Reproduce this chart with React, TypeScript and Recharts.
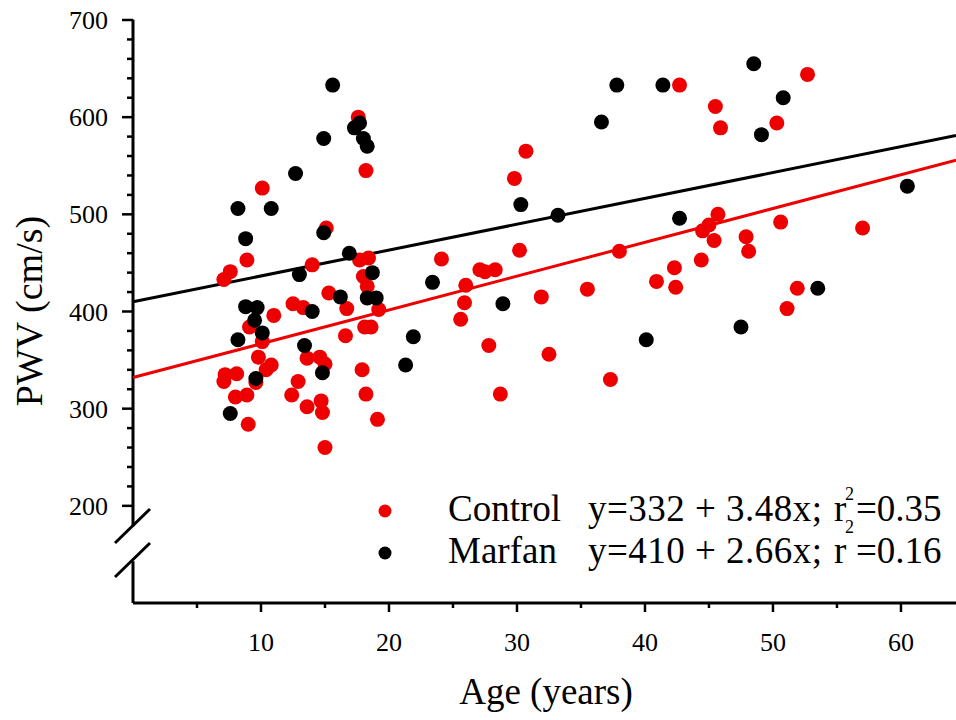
import React from 'react';
import { ScatterChart, Scatter, XAxis, YAxis, ReferenceLine } from 'recharts';

// Control group (red): age in years, PWV in cm/s
const controlAge = [
  10.1, 8.9, 7.6, 7.1, 15.1, 17.7, 18.4, 14.0, 18.0, 18.3, 15.3, 16.7, 19.2, 18.1, 18.6, 16.6,
  17.9, 18.2, 19.1, 15.0, 14.7, 14.8, 13.6, 12.4, 12.9, 13.6, 14.6, 15.0, 13.3, 12.5, 11.0, 9.1,
  10.1, 9.8, 10.8, 10.4, 7.2, 8.1, 7.1, 9.6, 8.9, 8.0, 9.0, 17.6, 18.2, 42.7, 45.5, 45.9,
  50.3, 52.7, 30.7, 29.8, 30.2, 24.1, 27.1, 27.5, 28.3, 26.0, 38.0, 45.7, 45.0, 44.5, 45.4, 47.9,
  48.1, 50.6, 57.0, 44.4, 42.3, 42.4, 40.9, 35.5, 31.9, 51.9, 25.9, 25.6, 51.1, 32.5, 27.8, 28.7,
  37.3,
];
const controlPwv = [
  527, 453, 441, 433, 486, 453, 455, 448, 436, 426, 419, 403, 402, 384, 384, 375,
  340, 315, 289, 260, 308, 296, 302, 314, 328, 352, 353, 346, 404, 408, 396, 384,
  369, 353, 345, 340, 335, 336, 328, 327, 314, 312, 284, 600, 545, 633, 611, 589,
  594, 644, 565, 537, 463, 454, 443, 441, 443, 427, 462, 500, 489, 483, 473, 477,
  462, 492, 486, 453, 445, 425, 431, 423, 415, 424, 409, 392, 403, 356, 365, 315,
  330,
];

// Marfan group (black)
const marfanAge = [
  15.6, 17.7, 17.3, 18.0, 18.3, 14.9, 12.7, 8.2, 10.8, 8.8, 14.9, 16.9, 13.0, 18.7, 16.2,
  18.3, 19.0, 21.9, 21.3, 14.8, 13.4, 14.0, 8.8, 9.7, 9.5, 10.1, 8.2, 9.6, 7.6, 48.5,
  37.8, 41.4, 36.6, 50.8, 49.1, 60.5, 30.3, 33.2, 42.7, 23.4, 53.5, 28.9, 47.5, 40.1,
];
const marfanPwv = [
  633, 594, 589, 578, 570, 578, 542, 506, 506, 475, 481, 460, 438, 440, 415,
  414, 414, 374, 345, 337, 365, 400, 405, 404, 391, 378, 371, 331, 295, 655,
  633, 633, 595, 620, 582, 529, 510, 499, 496, 430, 424, 408, 384, 371,
];

// regression fits shown in the legend
const controlFit = { intercept: 332, slope: 3.48 };
const marfanFit = { intercept: 410, slope: 2.66 };

const xTicks = [5, 10, 15, 20, 25, 30, 35, 40, 45, 50, 55, 60];
const yTicks = [
  200, 220, 240, 260, 280, 300, 320, 340, 360, 380, 400, 420, 440,
  460, 480, 500, 520, 540, 560, 580, 600, 620, 640, 660, 680, 700,
];
const xDomain: [number, number] = [0, 64.3];
const yDomain: [number, number] = [100, 700];

const RED = '#ee0000';
const FONT = "'Liberation Serif', 'Times New Roman', serif";

const controlData = controlAge.map((age, i) => ({ age, pwv: controlPwv[i] }));
const marfanData = marfanAge.map((age, i) => ({ age, pwv: marfanPwv[i] }));

const fitSegment = (fit: { intercept: number; slope: number }) => [
  { x: xDomain[0], y: fit.intercept + fit.slope * xDomain[0] },
  { x: xDomain[1], y: fit.intercept + fit.slope * xDomain[1] },
];

const XTick = (props: any) => {
  const { x, y, payload } = props;
  const major = payload.value % 10 === 0;
  return (
    <g>
      <line x1={x} y1={y} x2={x} y2={y + (major ? 9 : 5)} stroke="#000" strokeWidth={2.5} />
      {major && (
        <text x={x} y={y + 48} textAnchor="middle" fontSize={26} fontFamily={FONT} fill="#000">
          {payload.value}
        </text>
      )}
    </g>
  );
};

const YTick = (props: any) => {
  const { x, y, payload } = props;
  const major = payload.value % 100 === 0;
  return (
    <g>
      <line x1={x - (major ? 11 : 6)} y1={y} x2={x} y2={y} stroke="#000" strokeWidth={2.5} />
      {major && (
        <text x={x - 25} y={y + 9} textAnchor="end" fontSize={26} fontFamily={FONT} fill="#000">
          {payload.value}
        </text>
      )}
    </g>
  );
};

const dot = (color: string) => (p: any) => <circle cx={p.cx} cy={p.cy} r={7.5} fill={color} />;

const App: React.FC = () => {
  return (
    <div style={{ position: 'absolute', left: 0, top: 0, width: 956, height: 720, background: '#fff' }}>
      <ScatterChart width={956} height={720} margin={{ top: 20, right: 0, bottom: 57, left: 33 }}>
        <XAxis
          type="number"
          dataKey="age"
          domain={xDomain}
          ticks={xTicks}
          interval={0}
          height={60}
          tickSize={0}
          tickMargin={0}
          axisLine={{ stroke: '#000', strokeWidth: 3 }}
          tickLine={false}
          tick={<XTick />}
        />
        <YAxis
          type="number"
          dataKey="pwv"
          domain={yDomain}
          ticks={yTicks}
          interval={0}
          width={100}
          tickSize={0}
          tickMargin={0}
          axisLine={false}
          tickLine={false}
          tick={<YTick />}
        />
        {/* y axis with a break between 100 and 200 */}
        <ReferenceLine segment={[{ x: 0, y: 700.5 }, { x: 0, y: 179 }]} stroke="#000" strokeWidth={3} ifOverflow="visible" />
        <ReferenceLine segment={[{ x: 0, y: 143 }, { x: 0, y: 100 }]} stroke="#000" strokeWidth={3} ifOverflow="visible" />
        <ReferenceLine segment={fitSegment(marfanFit)} stroke="#000" strokeWidth={3} ifOverflow="visible" />
        <ReferenceLine segment={fitSegment(controlFit)} stroke={RED} strokeWidth={3} ifOverflow="visible" />
        <Scatter name="Control" data={controlData} fill={RED} shape={dot(RED)} isAnimationActive={false} />
        <Scatter name="Marfan" data={marfanData} fill="#000" shape={dot('#000')} isAnimationActive={false} />
      </ScatterChart>

      <svg
        width={956}
        height={720}
        style={{ position: 'absolute', left: 0, top: 0, pointerEvents: 'none' }}
        fontFamily={FONT}
        fill="#000"
      >
        {/* axis break marks */}
        <line x1={115} y1={543} x2={150} y2={509} stroke="#000" strokeWidth={3} />
        <line x1={115} y1={577} x2={150} y2={543} stroke="#000" strokeWidth={3} />

        {/* axis titles */}
        <text x={546} y={704} textAnchor="middle" fontSize={37}>Age (years)</text>
        <text x={42} y={311} textAnchor="middle" fontSize={38} transform="rotate(-90 42 311)">PWV (cm/s)</text>

        {/* legend */}
        <circle cx={385} cy={511} r={6.5} fill={RED} />
        <circle cx={385} cy={553} r={6.5} fill="#000" />
        <text x={448} y={521} fontSize={37}>Control</text>
        <text x={448} y={563} fontSize={37}>Marfan</text>
        <text x={588} y={521} fontSize={37} textLength={234} lengthAdjust="spacing">y=332 + 3.48x;</text>
        <text x={834} y={521} fontSize={37}>r</text>
        <text x={845} y={500} fontSize={18}>2</text>
        <text x={845} y={533} fontSize={18}>2</text>
        <text x={856} y={521} fontSize={37}>=0.35</text>
        <text x={588} y={563} fontSize={37} textLength={234} lengthAdjust="spacing">y=410 + 2.66x;</text>
        <text x={834} y={563} fontSize={37}>r</text>
        <text x={856} y={563} fontSize={37}>=0.16</text>
      </svg>
    </div>
  );
};

export default App;
